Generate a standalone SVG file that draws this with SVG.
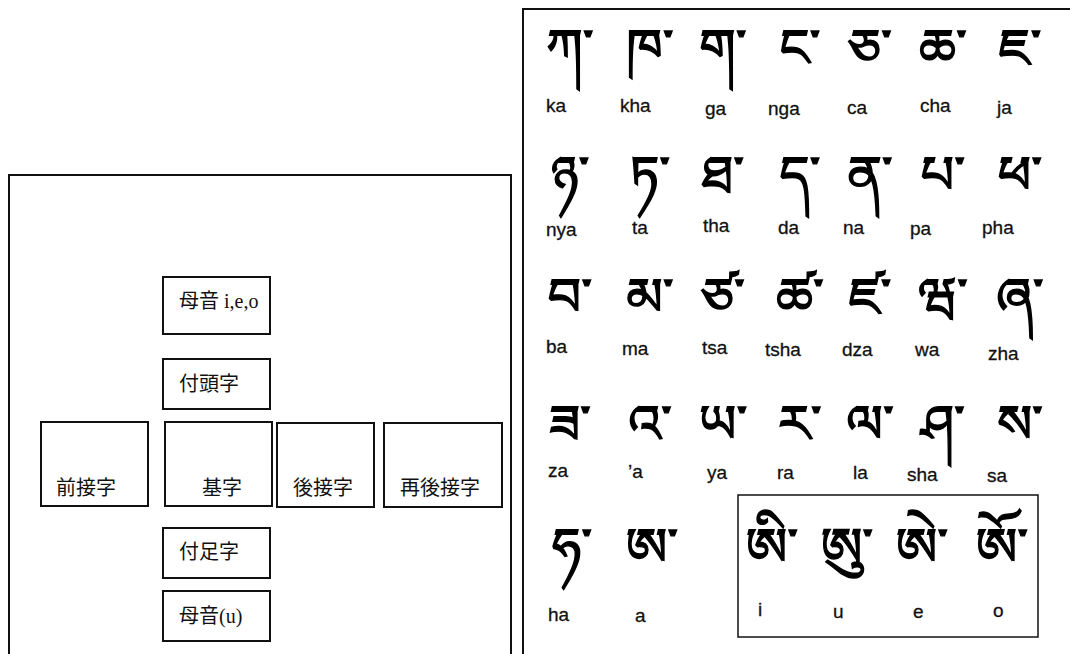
<svg xmlns="http://www.w3.org/2000/svg" width="1070" height="654" viewBox="0 0 1070 654">
<style>
.bx{fill:#fff;stroke:#111;stroke-width:2}
.jp{font-family:"Liberation Serif","Noto Sans CJK JP",serif;font-size:20px;fill:#111}
.tb{font-family:"Noto Sans Tibetan","Noto Serif Tibetan","Jomolhari","DejaVu Sans",sans-serif;font-size:52px;fill:#000;stroke:#000;stroke-width:1.4;text-anchor:middle}
.lb{font-family:"Liberation Sans",Arial,sans-serif;font-size:19px;fill:#111;stroke:#111;stroke-width:0.3}
</style>
<rect width="1070" height="654" fill="#fff"/>
<g id="left-panel">
<rect x="9" y="175" width="502" height="500" fill="none" stroke="#111" stroke-width="2"/>
</g>
<g id="node-vowel-ieo"><rect class="bx" x="163" y="277" width="107" height="57"/><text class="jp" x="179" y="308">母音 i,e,o</text></g>
<g id="node-head"><rect class="bx" x="163" y="359" width="107" height="50"/><text class="jp" x="179" y="391">付頭字</text></g>
<g id="node-prefix"><rect class="bx" x="41" y="422" width="107" height="84"/><text class="jp" x="56" y="495">前接字</text></g>
<g id="node-base"><rect class="bx" x="165" y="422" width="107" height="84"/><text class="jp" x="202" y="495">基字</text></g>
<g id="node-suffix"><rect class="bx" x="277" y="423" width="97" height="84"/><text class="jp" x="293" y="495">後接字</text></g>
<g id="node-postsuffix"><rect class="bx" x="384" y="423" width="118" height="84"/><text class="jp" x="400" y="495">再後接字</text></g>
<g id="node-foot"><rect class="bx" x="163" y="528" width="107" height="50"/><text class="jp" x="179" y="559">付足字</text></g>
<g id="node-vowel-u"><rect class="bx" x="163" y="591" width="107" height="50"/><text class="jp" x="179" y="623">母音(u)</text></g>
<g id="connectors"></g>
<g id="alphabet">
<rect x="523" y="9" width="560" height="660" fill="none" stroke="#111" stroke-width="2"/>
<g id="row1">
<text class="tb" x="570" y="66">ཀ་</text><text class="tb" x="650" y="66">ཁ་</text><text class="tb" x="723" y="66">ག་</text><text class="tb" x="800" y="66">ང་</text><text class="tb" x="870" y="66">ཅ་</text><text class="tb" x="943" y="66">ཆ་</text><text class="tb" x="1020" y="66">ཇ་</text>
<text class="lb" x="546" y="112">ka</text><text class="lb" x="620" y="112">kha</text><text class="lb" x="705" y="115">ga</text><text class="lb" x="768" y="115">nga</text><text class="lb" x="847" y="114">ca</text><text class="lb" x="920" y="112">cha</text><text class="lb" x="997" y="114">ja</text>
</g>
<g id="row2">
<text class="tb" x="570" y="193">ཉ་</text><text class="tb" x="650" y="193">ཏ་</text><text class="tb" x="723" y="193">ཐ་</text><text class="tb" x="800" y="193">ད་</text><text class="tb" x="870" y="193">ན་</text><text class="tb" x="943" y="193">པ་</text><text class="tb" x="1020" y="193">ཕ་</text>
<text class="lb" x="546" y="236">nya</text><text class="lb" x="632" y="234">ta</text><text class="lb" x="703" y="232">tha</text><text class="lb" x="778" y="234">da</text><text class="lb" x="843" y="234">na</text><text class="lb" x="910" y="235">pa</text><text class="lb" x="982" y="234">pha</text>
</g>
<g id="row3">
<text class="tb" x="570" y="315">བ་</text><text class="tb" x="650" y="315">མ་</text><text class="tb" x="723" y="315">ཙ་</text><text class="tb" x="800" y="315">ཚ་</text><text class="tb" x="870" y="315">ཛ་</text><text class="tb" x="943" y="315">ཝ་</text><text class="tb" x="1020" y="315">ཞ་</text>
<text class="lb" x="546" y="353">ba</text><text class="lb" x="622" y="355">ma</text><text class="lb" x="702" y="354">tsa</text><text class="lb" x="765" y="356">tsha</text><text class="lb" x="842" y="356">dza</text><text class="lb" x="915" y="356">wa</text><text class="lb" x="988" y="360">zha</text>
</g>
<g id="row4">
<text class="tb" x="570" y="442">ཟ་</text><text class="tb" x="650" y="442">འ་</text><text class="tb" x="723" y="442">ཡ་</text><text class="tb" x="800" y="442">ར་</text><text class="tb" x="870" y="442">ལ་</text><text class="tb" x="943" y="442">ཤ་</text><text class="tb" x="1020" y="442">ས་</text>
<text class="lb" x="548" y="477">za</text><text class="lb" x="628" y="478">’a</text><text class="lb" x="707" y="479">ya</text><text class="lb" x="777" y="479">ra</text><text class="lb" x="853" y="479">la</text><text class="lb" x="907" y="481">sha</text><text class="lb" x="987" y="482">sa</text>
</g>
<g id="row5">
<text class="tb" x="572" y="565">ཧ་</text><text class="tb" x="652" y="565">ཨ་</text>
<text class="lb" x="548" y="621">ha</text><text class="lb" x="635" y="622">a</text>
</g>
<g id="vowels">
<rect x="738" y="495" width="300" height="142" fill="none" stroke="#111" stroke-width="1.5"/>
<text class="tb" x="772" y="565">ཨི་</text><text class="tb" x="847" y="565">ཨུ་</text><text class="tb" x="922" y="565">ཨེ་</text><text class="tb" x="1002" y="565">ཨོ་</text>
<text class="lb" x="758" y="616">i</text><text class="lb" x="833" y="618">u</text><text class="lb" x="913" y="618">e</text><text class="lb" x="993" y="617">o</text>
</g>
</g>
</svg>
